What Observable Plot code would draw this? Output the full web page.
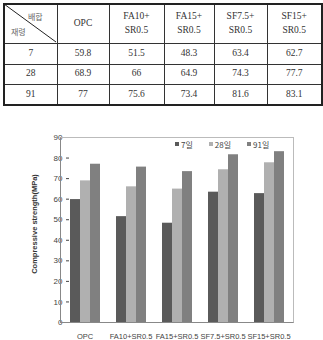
<!DOCTYPE html>
<html><head><meta charset="utf-8">
<script src="https://cdn.jsdelivr.net/npm/d3@7"></script>
<script src="https://cdn.jsdelivr.net/npm/@observablehq/plot@0.6"></script>
<style>
body{margin:0;background:#fff;}
#root{position:relative;width:323px;height:340px;overflow:hidden;background:#fff;}
#tbl{position:absolute;left:3px;top:3px;width:318px;height:101px;border-collapse:collapse;table-layout:fixed;font-family:"Liberation Serif","DejaVu Serif",serif;font-size:9.5px;color:#333;border:2px solid #222;}
#tbl td{border:1px solid #333;text-align:center;padding:0;line-height:13.5px;}
#diag{position:absolute;left:0;top:0;pointer-events:none;z-index:2;}
.kr{position:absolute;font-family:"Noto Sans CJK KR",sans-serif;font-size:8px;color:#666;line-height:8px;z-index:2;}
#chart{position:absolute;left:0;top:125px;}
#chart svg [aria-label^="y-axis"] text{font-size:8px;}
#frame{position:absolute;left:60px;top:137px;width:232px;height:184px;border-top:1px solid #bbb;border-right:1px solid #bbb;border-left:1px solid #888;border-bottom:1px solid #888;pointer-events:none;}
#ylab{position:absolute;left:34px;top:224px;transform:translate(-50%,-50%) rotate(-90deg);white-space:nowrap;font:bold 7.5px "Liberation Sans",Arial,sans-serif;color:#333;}
#legend{position:absolute;left:175px;top:141px;display:flex;gap:16px;font-family:"Noto Sans CJK KR",sans-serif;font-size:8px;color:#444;line-height:1;}
#legend .it{display:flex;align-items:flex-start;}
#legend .sw{width:4px;height:4px;margin-right:2px;margin-top:1px;}
</style></head>
<body><div id="root"></div>
<script>
const categories = ["OPC","FA10+SR0.5","FA15+SR0.5","SF7.5+SR0.5","SF15+SR0.5"];
const ages = ["7일","28일","91일"];
const ageDays = ["7","28","91"];
const values7 = [59.8,51.5,48.3,63.4,62.7];
const values28 = [68.9,66,64.9,74.3,77.7];
const values91 = [77,75.6,73.4,81.6,83.1];
const yTicks = [0,10,20,30,40,50,60,70,80,90];
const colors = ["#5a5a5a","#b0b0b0","#808080"];
const series = [values7, values28, values91];

const root = document.getElementById("root");

const colW = [53,52,55,50,53,55];
const rowH = [39,21,20,21];
let html = '<table id="tbl"><colgroup>' + colW.map(w=>`<col style="width:${w}px">`).join("") + '</colgroup>';
html += `<tr style="height:${rowH[0]}px"><td></td>` + categories.map(c=>{
  const i = c.indexOf("+");
  return i<0 ? `<td>${c}</td>` : `<td>${c.slice(0,i+1)}<br>${c.slice(i+1)}</td>`;
}).join("") + '</tr>';
ageDays.forEach((d,j)=>{
  html += `<tr style="height:${rowH[j+1]}px"><td>${d}</td>` + series[j].map(v=>`<td>${v}</td>`).join("") + '</tr>';
});
html += '</table>';
root.insertAdjacentHTML("beforeend", html);
root.insertAdjacentHTML("beforeend", '<svg id="diag" width="323" height="60"><line x1="4" y1="4" x2="56" y2="42" stroke="#222" stroke-width="1"/></svg>');
root.insertAdjacentHTML("beforeend", '<div class="kr" style="left:28px;top:13px">배합</div><div class="kr" style="left:11px;top:28px">재령</div>');

const data = [];
categories.forEach((c,i)=>ages.forEach((a,j)=>data.push({cat:c, age:a, value:series[j][i]})));

const chart = Plot.plot({
  width:323, height:215,
  marginLeft:60, marginRight:30, marginTop:12, marginBottom:18,
  style:{fontSize:"7.5px", fontFamily:"'Liberation Sans', Arial, sans-serif", color:"#444", background:"transparent"},
  facet:{data, x:"cat"},
  fx:{domain:categories, paddingInner:0.33, paddingOuter:0.165, axis:"bottom", label:null, tickSize:0, tickPadding:11},
  x:{domain:ages, padding:0, axis:null},
  y:{domain:[0,90], ticks:yTicks, tickSize:3, tickPadding:4, label:null},
  color:{domain:ages, range:colors},
  marks:[Plot.barY(data,{x:"age", y:"value", fill:"age"})]
});
const wrap = document.createElement("div");
wrap.id = "chart";
wrap.appendChild(chart);
root.appendChild(wrap);

root.insertAdjacentHTML("beforeend", '<div id="frame"></div>');
root.insertAdjacentHTML("beforeend", '<div id="ylab">Compressive strength(MPa)</div>');
root.insertAdjacentHTML("beforeend", '<div id="legend">' + ages.map((a,j)=>`<div class="it"><div class="sw" style="background:${colors[j]}"></div><span>${a}</span></div>`).join("") + '</div>');
</script></body></html>
